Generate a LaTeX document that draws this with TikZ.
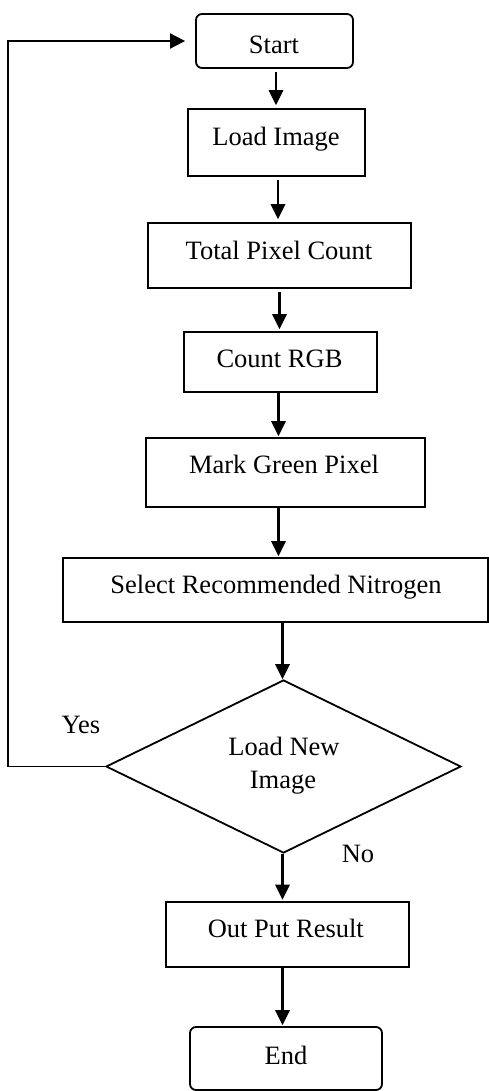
\documentclass[tikz,border=0pt]{standalone}
\usepackage{fontspec}
\setmainfont{Liberation Serif}
\usetikzlibrary{arrows.meta,shapes.geometric}
\begin{document}
\begin{tikzpicture}[x=1pt,y=-1pt,
  every node/.style={font=\fontsize{26.5}{33.3}\selectfont},
  procbox/.style={draw,line width=1.8pt,inner sep=0pt,rectangle},
  termbox/.style={procbox,rounded corners=6pt},
  decbox/.style={draw,line width=1.8pt,inner sep=0pt,diamond},
  txt/.style={anchor=base,inner sep=0pt},
  arr/.style={line width=2.2pt,-{Triangle[length=15pt,width=14.5pt]}},
  loopline/.style={line width=1.9pt,-{Triangle[length=15pt,width=15pt]}}]
\useasboundingbox (0,0) rectangle (489,1091);
% boxes
\node[termbox,minimum width=157pt,minimum height=54pt] (start) at (274.5,41) {};
\node[procbox,minimum width=177pt,minimum height=67pt] (load) at (276.5,142.5) {};
\node[procbox,minimum width=263pt,minimum height=65pt] (total) at (279.5,255.5) {};
\node[procbox,minimum width=193pt,minimum height=60pt] (count) at (280.5,362) {};
\node[procbox,minimum width=279pt,minimum height=69pt] (mark) at (285.5,472.5) {};
\node[procbox,minimum width=425pt,minimum height=64pt] (sel) at (275.5,590) {};
\node[decbox,minimum width=355pt,minimum height=173pt] (dia) at (283.5,766.5) {};
\node[procbox,minimum width=243pt,minimum height=65pt] (out) at (287.5,934.5) {};
\node[termbox,minimum width=192pt,minimum height=63pt] (end) at (286,1058.5) {};
% texts
\node[txt] (startT) at (274,53.3) {Start};
\node[txt] (loadT) at (276,145.7) {Load Image};
\node[txt] (totalT) at (279,259.3) {Total Pixel Count};
\node[txt] (countT) at (279.5,367.7) {Count RGB};
\node[txt] (markT) at (284,473.3) {Mark Green Pixel};
\node[txt] (selT) at (276,593.3) {Select Recommended Nitrogen};
\node[txt] (diaT1) at (284,755) {Load New};
\node[txt] (diaT2) at (283,788.3) {Image};
\node[txt] (outT) at (285.8,937) {Out Put Result};
\node[txt] (endT) at (286,1064) {End};
\node[txt] (yes) at (81,733.3) {Yes};
\node[txt] (no) at (358,862.7) {No};
% connectors
\draw[arr,shorten <=3pt,shorten >=3pt] ([xshift=1.5pt]start.south) -- ([xshift=1.5pt]start.south |- load.north);
\draw[arr,shorten <=3pt,shorten >=3pt] ([xshift=1.5pt]load.south) -- ([xshift=1.5pt]load.south |- total.north);
\draw[arr,shorten <=3pt,shorten >=2pt] (total.south) -- (total.south |- count.north);
\draw[arr,shorten >=1pt] ([xshift=-2pt]count.south) -- ([xshift=-2pt]count.south |- mark.north);
\draw[arr,shorten >=1pt] ([xshift=-7pt]mark.south) -- ([xshift=-7pt]mark.south |- sel.north);
\draw[arr] ([xshift=7pt]sel.south) -- ([xshift=7pt]sel.south |- dia.north);
\draw[arr,shorten >=1.5pt] ([xshift=-1pt]dia.south) -- ([xshift=-1pt]dia.south |- out.north);
\draw[arr,shorten >=1pt] ([xshift=-5pt]out.south) -- ([xshift=-5pt]out.south |- end.north);
\coordinate (loopc) at (8,766.5);
\draw[loopline,shorten >=10pt] (dia.west) -- (loopc) |- (start.west);
\end{tikzpicture}
\end{document}
